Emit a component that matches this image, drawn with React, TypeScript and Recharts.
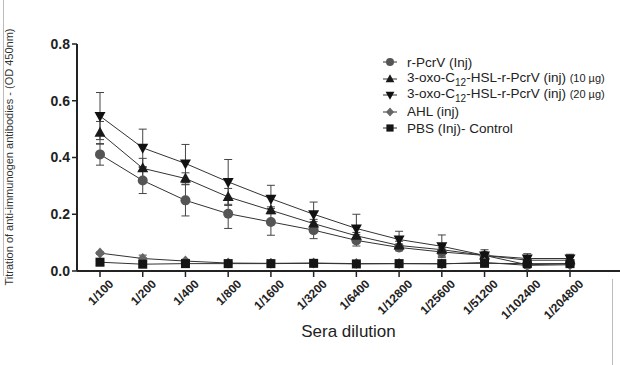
import { LineChart, Line, XAxis, YAxis, ErrorBar } from 'recharts'

const dilutions = ['1/100', '1/200', '1/400', '1/800', '1/1600', '1/3200', '1/6400', '1/12800', '1/25600', '1/51200', '1/102400', '1/204800']

const pcrv = [0.411, 0.319, 0.249, 0.202, 0.173, 0.144, 0.108, 0.083, 0.067, 0.055, 0.022, 0.026]
const pcrvErr = [0.038, 0.046, 0.055, 0.052, 0.047, 0.03, 0.02, 0.012, 0.015, 0.01, 0.008, 0.008]
const hsl10 = [0.487, 0.362, 0.326, 0.261, 0.214, 0.167, 0.124, 0.09, 0.075, 0.055, 0.038, 0.038]
const hsl10Err = [0.04, 0.035, 0.02, 0.03, 0.012, 0.015, 0.012, 0.015, 0.015, 0.01, 0.012, 0.01]
const hsl20 = [0.546, 0.434, 0.379, 0.314, 0.255, 0.2, 0.15, 0.111, 0.087, 0.055, 0.044, 0.044]
const hsl20Err = [0.083, 0.066, 0.067, 0.079, 0.047, 0.043, 0.05, 0.029, 0.04, 0.02, 0.017, 0.015]
const ahl = [0.063, 0.044, 0.035, 0.028, 0.027, 0.028, 0.026, 0.026, 0.025, 0.03, 0.02, 0.022]
const ahlErr = [0.004, 0.012, 0.006, 0.004, 0.003, 0.003, 0.003, 0.003, 0.003, 0.004, 0.003, 0.003]
const pbs = [0.031, 0.024, 0.026, 0.026, 0.026, 0.027, 0.025, 0.026, 0.026, 0.027, 0.026, 0.026]
const pbsErr = [0.002, 0.002, 0.002, 0.002, 0.002, 0.002, 0.002, 0.002, 0.002, 0.002, 0.002, 0.002]

const yTicks = [0, 0.2, 0.4, 0.6, 0.8]

const data = dilutions.map((d, i) => ({
  d,
  pcrv: pcrv[i], pcrvErr: pcrvErr[i],
  hsl10: hsl10[i], hsl10Err: hsl10Err[i],
  hsl20: hsl20[i], hsl20Err: hsl20Err[i],
  ahl: ahl[i], ahlErr: ahlErr[i],
  pbs: pbs[i], pbsErr: pbsErr[i],
}))

type Shape = 'circle' | 'up' | 'down' | 'diamond' | 'square'

const series: { key: string; name: string; dose?: string; shape: Shape; color: string }[] = [
  { key: 'pcrv', name: 'r-PcrV (Inj)', shape: 'circle', color: '#555' },
  { key: 'hsl10', name: '', dose: '10', shape: 'up', color: '#1a1a1a' },
  { key: 'hsl20', name: '', dose: '20', shape: 'down', color: '#111' },
  { key: 'ahl', name: 'AHL (inj)', shape: 'diamond', color: '#666' },
  { key: 'pbs', name: 'PBS (Inj)- Control', shape: 'square', color: '#151515' },
]

function Marker({ cx, cy, shape, color, s = 1 }: { cx: number; cy: number; shape: Shape; color: string; s?: number }) {
  if (shape === 'circle') return <circle cx={cx} cy={cy} r={5 * s} fill={color} />
  if (shape === 'up') return <polygon points={`${cx},${cy - 6 * s} ${cx + 5.5 * s},${cy + 4 * s} ${cx - 5.5 * s},${cy + 4 * s}`} fill={color} />
  if (shape === 'down') return <polygon points={`${cx},${cy + 6 * s} ${cx + 5.5 * s},${cy - 4 * s} ${cx - 5.5 * s},${cy - 4 * s}`} fill={color} />
  if (shape === 'diamond') return <polygon points={`${cx},${cy - 5.5 * s} ${cx + 5 * s},${cy} ${cx},${cy + 5.5 * s} ${cx - 5 * s},${cy}`} fill={color} />
  return <rect x={cx - 4.5 * s} y={cy - 4.5 * s} width={9 * s} height={9 * s} fill={color} />
}

function XTick({ x, y, payload }: any) {
  return (
    <g transform={`translate(${x},${y})`}>
      <text x={0} y={0} dx={6} dy={14} textAnchor="end" transform="rotate(-45)" fontSize={12} fontWeight="bold" fill="#222">
        {payload.value}
      </text>
    </g>
  )
}

function LegendBox() {
  return (
    <div style={{ position: 'absolute', left: 381, top: 54, fontFamily: 'Liberation Sans, Arial, sans-serif', fontSize: 13.5, color: '#222' }}>
      {series.map(s => (
        <div key={s.key} style={{ display: 'flex', alignItems: 'center', height: 16.5, whiteSpace: 'nowrap' }}>
          <svg width={18} height={12} style={{ marginRight: 8 }}>
            <line x1={2} y1={6} x2={16} y2={6} stroke="#333" strokeWidth={1} />
            <Marker cx={9} cy={6} shape={s.shape} color={s.color} s={0.8} />
          </svg>
          {s.dose ? (
            <span>
              3-oxo-C<sub style={{ fontSize: 10 }}>12</sub>-HSL-r-PcrV (inj) <span style={{ fontSize: 11 }}>({s.dose} µg)</span>
            </span>
          ) : (
            <span>{s.name}</span>
          )}
        </div>
      ))}
    </div>
  )
}

export default function App() {
  return (
    <div style={{ position: 'fixed', left: 0, top: 0, width: 620, height: 365, background: '#fff' }}>
      <div style={{ position: 'absolute', left: 3, top: 0, height: 276, borderLeft: '1px solid #bbb' }} />
      <div style={{ position: 'absolute', left: 612, top: 279, height: 86, borderLeft: '1px solid #bbb' }} />
      <LineChart width={620} height={365} data={data} margin={{ top: 44, right: 0, left: 27, bottom: 34 }}
        style={{ fontFamily: 'Liberation Sans, Arial, sans-serif' }}>
        <XAxis dataKey="d" interval={0} height={60} tick={<XTick />} tickSize={6} padding={{ left: 23, right: 50 }}
          axisLine={{ stroke: '#222', strokeWidth: 2 }} tickLine={{ stroke: '#222', strokeWidth: 1.5 }}
          label={{ value: 'Sera dilution', position: 'bottom', offset: -6, fontSize: 17, fill: '#222' }} />
        <YAxis domain={[0, 0.8]} ticks={yTicks} width={50} tickSize={5} tickFormatter={(v: number) => v.toFixed(1)}
          tick={{ fontSize: 14, fontWeight: 'bold', fill: '#222' }} axisLine={{ stroke: '#222', strokeWidth: 2 }}
          tickLine={{ stroke: '#222', strokeWidth: 1.5 }}
          label={() => (
            <text x={13} y={157} transform="rotate(-90, 13, 157)" textAnchor="middle" fontSize={11} fill="#333">
              Titration of anti-immunogen antibodies - (OD 450nm)
            </text>
          )} />
        {series.map(s => (
          <Line key={s.key} dataKey={s.key} stroke="#333" strokeWidth={1} isAnimationActive={false}
            dot={(p: any) => <Marker key={`${s.key}-${p.index}`} cx={p.cx} cy={p.cy} shape={s.shape} color={s.color} />}
            activeDot={false}>
            <ErrorBar dataKey={`${s.key}Err`} width={4} stroke="#444" strokeWidth={1} direction="y" />
          </Line>
        ))}
      </LineChart>
      <LegendBox />
    </div>
  )
}
